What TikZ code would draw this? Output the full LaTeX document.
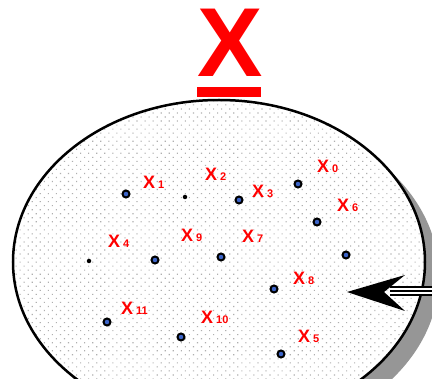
\documentclass[tikz,border=0pt]{standalone}
\usepackage{fontspec}
\setmainfont{Liberation Sans}
\usepackage{tikz}
\usetikzlibrary{arrows.meta,patterns.meta}
\definecolor{dotgray}{RGB}{175,175,175}
\definecolor{ptblue}{RGB}{60,100,200}
\definecolor{shadowgray}{RGB}{150,150,150}
\newcommand{\xlab}[1]{X\,{\fontsize{11}{11}\selectfont #1}}

\begin{document}
\begin{tikzpicture}[x=1pt,y=-1pt,>=Stealth,every node/.style={font=\bfseries}]
\tikzstyle{pt}=[circle,draw=black,line width=2pt,fill=ptblue,inner sep=0pt,minimum size=7pt]
\tikzstyle{dotpt}=[circle,fill=black,inner sep=0pt,minimum size=4.5pt]
\tikzstyle{lbl}=[text=red,anchor=base west,inner sep=0pt,font=\bfseries\fontsize{18}{18}\selectfont]
\clip (0,0) rectangle (432,379);
% the set with its shadow
\fill[shadowgray] (233,276) ellipse [x radius=206,y radius=162];
\fill[white] (219,262) ellipse [x radius=206,y radius=162];
\fill[pattern={Dots[radius=0.8pt,angle=45,distance=5.7pt]},pattern color=dotgray] (219,262) ellipse [x radius=206,y radius=162];
\draw[line width=2.5pt] (219,262) ellipse [x radius=206,y radius=162];
% title
\node[text=red,inner sep=0pt,anchor=base,text height=70pt,text depth=0pt,font=\bfseries\fontsize{98}{98}\selectfont] (title) at (230,77) {X};
\fill[red] (197,87) rectangle (261,97);
% elements
\foreach \n/\x/\y in {a/126/194,c/239/200,e/155/260,f/221/257,g/298/184,h/317/222,i/346/255,j/274/289,k/107/322,l/181/337,m/281/354}
  {\node[pt] (p\n) at (\x,\y) {};}
\node[dotpt] (pb) at (185,197) {};
\node[dotpt] (pd) at (89,261) {};
\foreach \i/\x/\y in {0/317/173,1/143/189,2/205/181,3/252/198,4/108/248,5/298/343,6/337/212,7/242/243,8/293/285,9/181/242,10/201/324,11/121/315}
  {\node[lbl] (x\i) at (\x,\y) {\xlab{\i}};}
% arrow into the set
\coordinate (arrtail) at (440,291);
\coordinate (arrmid) at (390,291);
\coordinate (arrtip) at (347,292);
\draw[line width=10pt] (arrtail) -- (arrmid);
\draw[line width=6.5pt,white] (arrtail) -- (arrmid);
\draw[line width=1.6pt] (arrtail) -- (arrmid);
\fill (arrtip) -- (405,275) -- (384,292) -- (405,311) -- cycle;
\end{tikzpicture}
\end{document}
